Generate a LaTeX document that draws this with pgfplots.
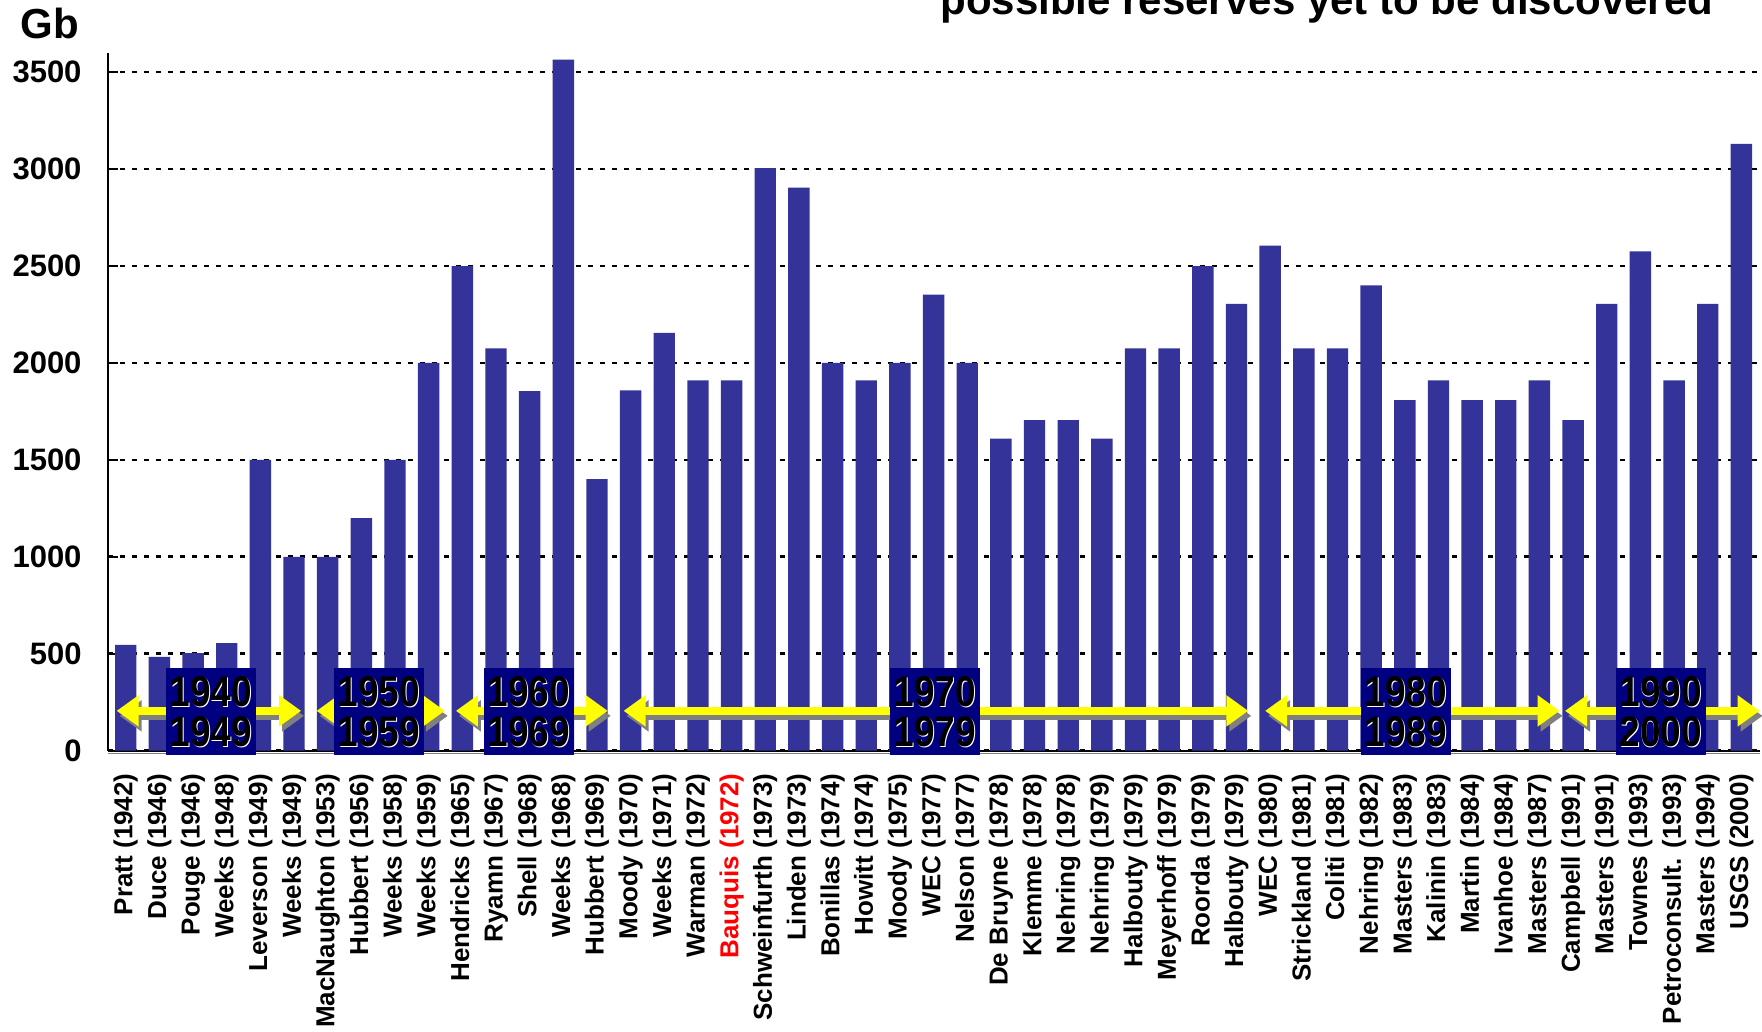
\documentclass[border=0pt]{standalone}
\usepackage{graphicx}
\usepackage{pgfplots}
\pgfplotsset{compat=1.18}
\usetikzlibrary{arrows.meta}
\usepackage{fontspec}
\setmainfont{Liberation Sans}
\definecolor{barblue}{RGB}{51,51,153}
\definecolor{boxnavy}{RGB}{0,0,128}
\definecolor{shadowgray}{RGB}{128,128,128}
\definecolor{arrowyellow}{RGB}{255,255,0}
\newcommand{\shadowtxt}[1]{\makebox[0pt][l]{\hspace{0.55bp}\raisebox{-0.55bp}{\textcolor{white}{#1}}}#1}
\newcommand{\dtext}[1]{{\fontsize{21.5bp}{21.5bp}\selectfont\bfseries\scalebox{0.86}[1]{\shadowtxt{#1}}}}
\tikzset{
  darr/.style={line width=4bp, {Triangle[length=11bp,width=15bp]}-{Triangle[length=11bp,width=15bp]}},
  dbox/.style={fill=boxnavy, draw=none, minimum width=45bp, minimum height=43.5bp, inner sep=0pt},
  dtxt/.style={anchor=base, inner sep=0pt}
}
\begin{document}
\begin{tikzpicture}
\useasboundingbox (-53.95bp,-140.7bp) rectangle (827.05bp,375.3bp);
\begin{axis}[
  at={(0,0)}, anchor=south west,
  scale only axis, width=826bp, height=348.9bp,
  xmin=-0.53, xmax=48.55, ymin=0, ymax=3600,
  axis lines*=left,
  axis line style={black, line width=1.1bp},
  clip=false,
  ybar, bar width=10.7bp,
  ytick={0,500,...,3500},
  xtick={0,...,48},
  xticklabels={Pratt (1942), Duce (1946), Pouge (1946), Weeks (1948), Leverson (1949), Weeks (1949), MacNaughton (1953), Hubbert (1956), Weeks (1958), Weeks (1959), Hendricks (1965), Ryamn (1967), Shell (1968), Weeks (1968), Hubbert (1969), Moody (1970), Weeks (1971), Warman (1972), \textcolor{red}{Bauquis (1972)}, Schweinfurth (1973), Linden (1973), Bonillas (1974), Howitt (1974), Moody (1975), WEC (1977), Nelson (1977), De Bruyne (1978), Klemme (1978), Nehring (1978), Nehring (1979), Halbouty (1979), Meyerhoff (1979), Roorda (1979), Halbouty (1979), WEC (1980), Strickland (1981), Coliti (1981), Nehring (1982), Masters (1983), Kalinin (1983), Martin (1984), Ivanhoe (1984), Masters (1987), Campbell (1991), Masters (1991), Townes (1993), Petroconsult. (1993), Masters (1994), USGS (2000)},
  xtick style={draw=none},
  ytick style={black, line width=1.1bp},
  tick align=inside, major tick length=5bp,
  ymajorgrids,
  grid style={black, line width=1.3bp, dash pattern=on 2.5bp off 3.5bp},
  /pgf/number format/assume math mode=true,
  /pgf/number format/1000 sep={},
  xticklabel style={rotate=90, anchor=east, inner sep=0pt, font=\fontsize{13bp}{13bp}\selectfont\bfseries},
  xticklabel shift=11.2bp,
  yticklabel style={anchor=east, inner sep=0pt, font=\fontsize{15.5bp}{15.5bp}\selectfont\bfseries},
  yticklabel shift=13bp,
]
\addplot[fill=barblue, draw=none] coordinates {
(0,545) (1,483) (2,503) (3,555) (4,1500) (5,1000) (6,1000) (7,1200) (8,1500) (9,2000)
(10,2500) (11,2075) (12,1855) (13,3565) (14,1400) (15,1858) (16,2155) (17,1910) (18,1910) (19,3005)
(20,2905) (21,2000) (22,1910) (23,2000) (24,2353) (25,2000) (26,1610) (27,1705) (28,1705) (29,1610)
(30,2075) (31,2075) (32,2500) (33,2305) (34,2605) (35,2075) (36,2075) (37,2400) (38,1808) (39,1910)
(40,1808) (41,1808) (42,1910) (43,1705) (44,2305) (45,2575) (46,1910) (47,2305) (48,3130)
};
% shadow under bottom axis
\draw[shadowgray, line width=0.8bp] ([yshift=-1.4bp]axis cs:-0.53,0) -- ([yshift=-1.4bp]axis cs:48.55,0);
% decade arrows: shadows
\draw[darr, shadowgray, shift={(1.5bp,-2.5bp)}] (axis cs:-0.27,205) -- (axis cs:5.21,205);
\draw[darr, shadowgray, shift={(1.5bp,-2.5bp)}] (axis cs:5.67,205) -- (axis cs:9.48,205);
\draw[darr, shadowgray, shift={(1.5bp,-2.5bp)}] (axis cs:9.81,205) -- (axis cs:14.32,205);
\draw[darr, shadowgray, shift={(1.5bp,-2.5bp)}] (axis cs:14.79,205) -- (axis cs:33.35,205);
\draw[darr, shadowgray, shift={(1.5bp,-2.5bp)}] (axis cs:33.85,205) -- (axis cs:42.6,205);
\draw[darr, shadowgray, shift={(1.5bp,-2.5bp)}] (axis cs:42.76,205) -- (axis cs:48.54,205);
% decade arrows
\draw[darr, arrowyellow] (axis cs:-0.27,205) -- (axis cs:5.21,205);
\draw[darr, arrowyellow] (axis cs:5.67,205) -- (axis cs:9.48,205);
\draw[darr, arrowyellow] (axis cs:9.81,205) -- (axis cs:14.32,205);
\draw[darr, arrowyellow] (axis cs:14.79,205) -- (axis cs:33.35,205);
\draw[darr, arrowyellow] (axis cs:33.85,205) -- (axis cs:42.6,205);
\draw[darr, arrowyellow] (axis cs:42.76,205) -- (axis cs:48.54,205);
% boxes
\node[dbox] at (axis cs:2.53,202) {};
\node[dbox] at (axis cs:7.52,202) {};
\node[dbox] at (axis cs:11.98,202) {};
\node[dbox] at (axis cs:24.04,202) {};
\node[dbox] at (axis cs:38.03,202) {};
\node[dbox] at (axis cs:45.6,202) {};
% box texts
\node[dtxt, yshift=2.5bp] at (axis cs:2.53,202) {\dtext{1940}};
\node[dtxt, yshift=-17.5bp] at (axis cs:2.53,202) {\dtext{1949}};
\node[dtxt, yshift=2.5bp] at (axis cs:7.52,202) {\dtext{1950}};
\node[dtxt, yshift=-17.5bp] at (axis cs:7.52,202) {\dtext{1959}};
\node[dtxt, yshift=2.5bp] at (axis cs:11.98,202) {\dtext{1960}};
\node[dtxt, yshift=-17.5bp] at (axis cs:11.98,202) {\dtext{1969}};
\node[dtxt, yshift=2.5bp] at (axis cs:24.04,202) {\dtext{1970}};
\node[dtxt, yshift=-17.5bp] at (axis cs:24.04,202) {\dtext{1979}};
\node[dtxt, yshift=2.5bp] at (axis cs:38.03,202) {\dtext{1980}};
\node[dtxt, yshift=-17.5bp] at (axis cs:38.03,202) {\dtext{1989}};
\node[dtxt, yshift=2.5bp] at (axis cs:45.6,202) {\dtext{1990}};
\node[dtxt, yshift=-17.5bp] at (axis cs:45.6,202) {\dtext{2000}};
\end{axis}
\node[anchor=base west, inner sep=0pt, font=\fontsize{21bp}{21bp}\selectfont\bfseries] at (-43.95bp,355.8bp) {Gb};
\node[anchor=base, inner sep=0pt, font=\fontsize{21bp}{21bp}\selectfont\bfseries] at (609.5bp,367.8bp) {possible reserves yet to be discovered};
\end{tikzpicture}
\end{document}
